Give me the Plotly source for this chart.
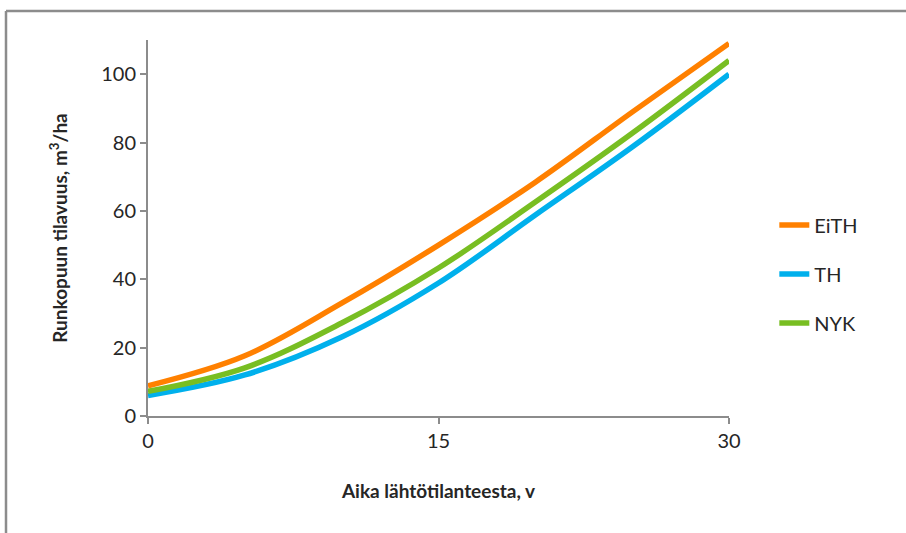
import plotly.graph_objects as go

years = [0, 5, 10, 15, 20, 25, 30]
eith = [8.8, 17.6, 33.0, 50.0, 68.4, 88.9, 109.0]
th = [6.0, 12.0, 23.1, 38.9, 58.8, 78.7, 100.0]
nyk = [7.2, 14.1, 27.2, 43.3, 62.6, 82.7, 104.0]
x_ticks = [0, 15, 30]
y_ticks = [0, 20, 40, 60, 80, 100]

series = [("EiTH", eith, "#FF8000"), ("TH", th, "#00B0EC"), ("NYK", nyk, "#78BE22")]

fig = go.Figure()
for i, (name, vals, col) in enumerate(series):
    fig.add_trace(go.Scatter(x=years, y=vals, name=name, mode="lines",
                             line=dict(color=col, width=5.5, shape="spline"),
                             legendgroup=f"g{i}"))

font_fam = "Lato, 'Open Sans', sans-serif"
fig.update_layout(
    width=906, height=533,
    margin=dict(l=148, r=177, t=40, b=117, autoexpand=False),
    paper_bgcolor="white", plot_bgcolor="white",
    font=dict(family=font_fam, size=20, color="#262626"),
    showlegend=True,
    legend=dict(x=1.078, y=0.56, xanchor="left", yanchor="top",
                font=dict(size=20, color="#262626"), tracegroupgap=20,
                bgcolor="rgba(0,0,0,0)"),
    xaxis=dict(range=[0, 30], tickvals=x_ticks, showgrid=False, zeroline=False,
               showline=True, linecolor="#8C8C8C", linewidth=2, automargin=False,
               ticks="outside", ticklen=6, tickcolor="#8C8C8C", tickwidth=2,
               tickfont=dict(size=20),
               title=dict(text="<b>Aika lähtötilanteesta, v</b>", font=dict(size=19), standoff=34)),
    yaxis=dict(range=[0, 110], tickvals=y_ticks, showgrid=False, zeroline=False,
               showline=True, linecolor="#8C8C8C", linewidth=2, automargin=False,
               ticks="outside", ticklen=6, tickcolor="#8C8C8C", tickwidth=2,
               tickfont=dict(size=20),
               title=dict(text="<b>Runkopuun tilavuus, m<sup>3</sup>/ha</b>", font=dict(size=19), standoff=29)),
)

# outer frame (top and left edges visible)
fig.add_shape(type="line", xref="paper", yref="paper",
              x0=-0.2444, x1=1.6, y0=1.0771, y1=1.0771,
              line=dict(color="#8C8C8C", width=2.5))
fig.add_shape(type="line", xref="paper", yref="paper",
              x0=-0.2444, x1=-0.2444, y0=-0.6, y1=1.0771,
              line=dict(color="#8C8C8C", width=2.5))

fig.write_html("out.html", config={"displayModeBar": False},
               post_script="document.body.style.margin='0px';")
